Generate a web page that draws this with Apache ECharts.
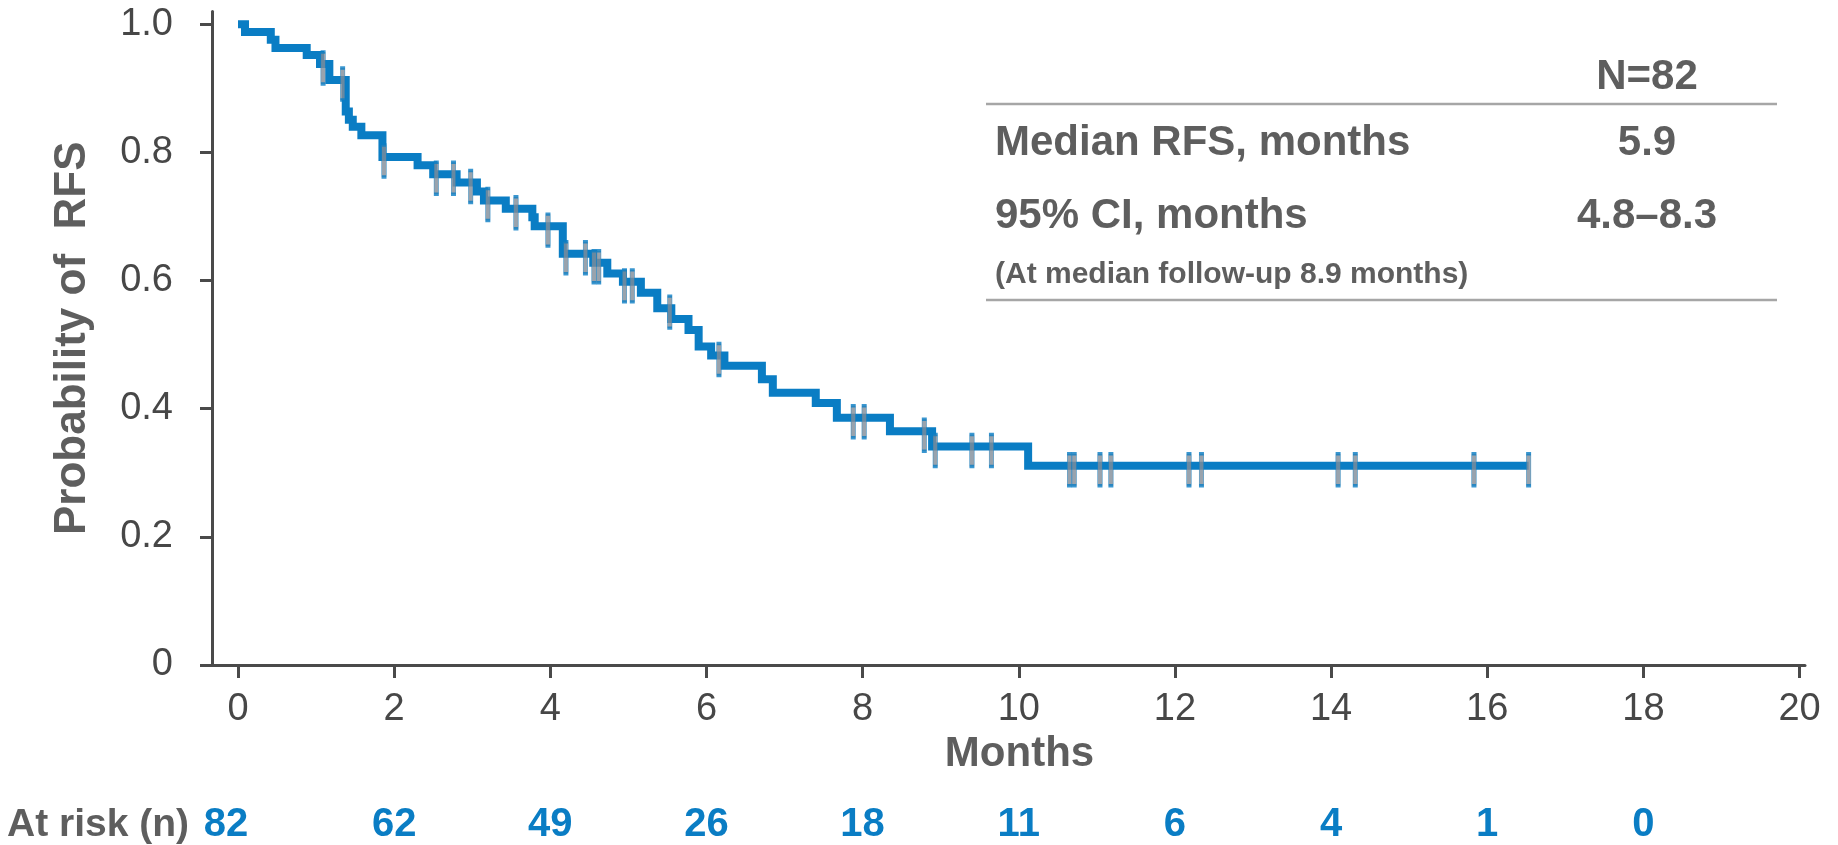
<!DOCTYPE html>
<html>
<head>
<meta charset="utf-8">
<script src="https://cdn.jsdelivr.net/npm/echarts@6/dist/echarts.min.js"></script>
<style>
  html, body { margin: 0; padding: 0; background: #ffffff; }
  #chart { width: 1838px; height: 845px; }
</style>
</head>
<body>
<div id="chart"></div>
<script>
// Kaplan–Meier estimate of relapse-free survival: event times (months) and survival after each event
const months = [0, 0.09, 0.42, 0.48, 0.88, 1.05, 1.17, 1.38, 1.42, 1.47, 1.58, 1.85, 2.30, 2.50, 2.80,
  3.06, 3.15, 3.43, 3.77, 3.80, 4.16, 4.55, 4.73, 4.93, 5.16, 5.37, 5.55, 5.77, 5.90, 6.06, 6.23,
  6.71, 6.85, 7.40, 7.67, 8.35, 8.89, 10.12, 16.53];
const survival = [1.0, 0.988, 0.976, 0.963, 0.952, 0.938, 0.913, 0.864, 0.851, 0.840, 0.827, 0.793, 0.780, 0.766, 0.753,
  0.739, 0.725, 0.712, 0.699, 0.685, 0.642, 0.628, 0.611, 0.598, 0.581, 0.557, 0.540, 0.523, 0.497, 0.483, 0.467,
  0.446, 0.425, 0.409, 0.386, 0.365, 0.341, 0.311, 0.311];

// Censored observations (months)
const censorTimes = [1.09, 1.34, 1.87, 2.54, 2.76, 2.98, 3.20, 3.56, 3.97, 4.20, 4.45, 4.56, 4.62, 4.95, 5.05,
  5.53, 6.16, 7.88, 8.02, 8.79, 8.93, 9.40, 9.65, 10.65, 10.71, 11.04, 11.18, 12.18, 12.34, 14.09, 14.31,
  15.83, 16.53];

// Axis ticks
const xTicks = [0, 2, 4, 6, 8, 10, 12, 14, 16, 18, 20];
const yTicks = [0, 0.2, 0.4, 0.6, 0.8, 1.0];

// Number at risk
const riskTimes = [0, 2, 4, 6, 8, 10, 12, 14, 16, 18];
const atRisk = [82, 62, 49, 26, 18, 11, 6, 4, 1, 0];

// Summary table
const headerText = 'N=82';
const statLabels = ['Median RFS, months', '95% CI, months'];
const statValues = ['5.9', '4.8–8.3'];
const footnote = '(At median follow-up 8.9 months)';

const FONT = '"Liberation Sans", Arial, Helvetica, sans-serif';
const AXIS = '#4a4a4a';
const GREY = '#5e5e5e';
const BLUE = '#0a7dc4';

// survival value in effect at time t (right-continuous step function)
function survivalAt(t) {
  let s = survival[0];
  for (let i = 0; i < months.length; i++) {
    if (months[i] <= t) s = survival[i];
  }
  return s;
}

const curve = months.map((m, i) => [m, survival[i]]);
const censored = censorTimes.map(t => [t, survivalAt(t)]);

const chart = echarts.init(document.getElementById('chart'), null, { renderer: 'canvas' });

const tableX = 995, valueX = 1647;
const rowY = [143, 216];

const graphic = [
  { type: 'line', shape: { x1: 986, y1: 104, x2: 1777, y2: 104 }, style: { stroke: '#a6a6a6', lineWidth: 2.5 } },
  { type: 'line', shape: { x1: 986, y1: 300, x2: 1777, y2: 300 }, style: { stroke: '#a6a6a6', lineWidth: 2.5 } },
  { type: 'text', x: valueX, y: 77, style: { text: headerText, align: 'center', verticalAlign: 'middle',
      fontFamily: FONT, fontWeight: 'bold', fontSize: 42, fill: GREY } },
  { type: 'text', x: tableX, y: 275, style: { text: footnote, align: 'left', verticalAlign: 'middle',
      fontFamily: FONT, fontWeight: 'bold', fontSize: 30, fill: GREY } },
  { type: 'text', x: 7, y: 825, style: { text: 'At risk (n)', align: 'left', verticalAlign: 'middle',
      fontFamily: FONT, fontWeight: 'bold', fontSize: 39, fill: GREY } }
];
statLabels.forEach((lab, i) => {
  graphic.push({ type: 'text', x: tableX, y: rowY[i], style: { text: lab, align: 'left', verticalAlign: 'middle',
    fontFamily: FONT, fontWeight: 'bold', fontSize: 42, fill: GREY } });
  graphic.push({ type: 'text', x: valueX, y: rowY[i], style: { text: statValues[i], align: 'center', verticalAlign: 'middle',
    fontFamily: FONT, fontWeight: 'bold', fontSize: 42, fill: GREY } });
});

chart.setOption({
  animation: false,
  backgroundColor: '#ffffff',
  grid: { left: 212, right: 33, top: 11.5, bottom: 180, containLabel: false },
  xAxis: [
    {
      type: 'value', min: -0.333, max: 20.07,
      name: 'Months', nameLocation: 'middle', nameGap: 62,
      nameTextStyle: { fontFamily: FONT, fontWeight: 'bold', fontSize: 42, color: GREY, padding: [0, 0, 0, 22] },
      axisLine: { show: true, onZero: false, lineStyle: { color: AXIS, width: 3 } },
      axisTick: { show: true, length: 13, lineStyle: { color: AXIS, width: 3 }, customValues: xTicks },
      axisLabel: { show: true, customValues: xTicks, margin: 26, fontFamily: FONT, fontSize: 38, color: '#474747' },
      splitLine: { show: false }
    },
    {
      type: 'value', min: -0.333, max: 20.07, position: 'bottom', gridIndex: 0,
      axisLine: { show: false, onZero: false }, axisTick: { show: false }, splitLine: { show: false },
      axisLabel: {
        show: true, customValues: riskTimes, margin: 140,
        fontFamily: FONT, fontWeight: 'bold', fontSize: 40, color: BLUE,
        // the first count sits a little left of its tick
        formatter: v => {
          const i = riskTimes.indexOf(v);
          return i === 0 ? '{first|' + atRisk[i] + '}' : String(atRisk[i]);
        },
        rich: {
          first: { fontFamily: FONT, fontWeight: 'bold', fontSize: 40, color: BLUE, padding: [0, 24, 0, 0] }
        }
      }
    }
  ],
  yAxis: {
    type: 'value', min: 0, max: 1.02,
    name: 'Probability of  RFS', nameLocation: 'middle', nameGap: 117,
    nameTextStyle: { fontFamily: FONT, fontWeight: 'bold', fontSize: 44, color: GREY },
    axisLine: { show: true, onZero: false, lineStyle: { color: AXIS, width: 3 } },
    axisTick: { show: true, length: 12, lineStyle: { color: AXIS, width: 3 }, customValues: yTicks },
    axisLabel: {
      show: true, customValues: yTicks, margin: 39, fontFamily: FONT, fontSize: 38, color: '#474747',
      formatter: v => (v === 0 ? '0' : v.toFixed(1))
    },
    splitLine: { show: false }
  },
  series: [
    {
      type: 'line', step: 'end', data: curve, showSymbol: false, symbol: 'none',
      lineStyle: { color: BLUE, width: 8, join: 'miter', cap: 'butt' },
      z: 2
    },
    {
      type: 'scatter', data: censored, symbol: 'rect', symbolSize: [4.5, 32], symbolOffset: [0, 4],
      itemStyle: { color: '#7f8c98', borderColor: BLUE, borderWidth: 1.3 },
      z: 3
    }
  ],
  graphic: graphic
});
</script>
</body>
</html>
